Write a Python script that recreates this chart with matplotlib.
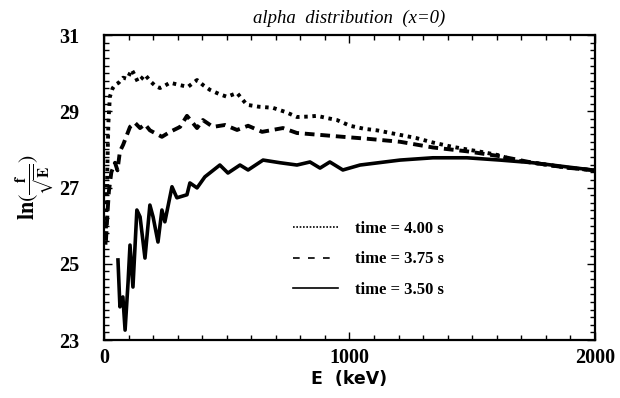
import numpy as np
import matplotlib
matplotlib.use("Agg")
import matplotlib.pyplot as plt
from matplotlib.ticker import MultipleLocator, FixedLocator

plt.rcParams['font.family'] = ['Liberation Serif', 'DejaVu Serif']
plt.rcParams['mathtext.fontset'] = 'stix'

# ------------------------------
# Datos
# ------------------------------
# time = 4.00 s (punteada)
E_400 = [6, 10, 14, 18, 24, 35, 45, 60, 78, 95, 113, 125, 138, 152, 167, 190,
         210, 228, 250, 269, 300, 342, 379, 405, 432, 470, 501, 542, 582, 630,
         688, 740, 786, 830, 868, 910, 949, 1002, 1060, 1112, 1206, 1270, 1340,
         1410, 1478, 1550, 1613, 1666, 1747, 1820, 1886, 1950, 2000]
f_400 = [25.5, 26.4, 27.6, 28.7, 29.38, 29.6, 29.69, 29.75, 29.88, 29.85, 30.09,
         29.95, 29.77, 29.85, 29.96, 29.78, 29.66, 29.61, 29.68, 29.75, 29.70,
         29.64, 29.82, 29.68, 29.56, 29.45, 29.38, 29.48, 29.17, 29.12, 29.09,
         28.98, 28.85, 28.86, 28.88, 28.82, 28.77, 28.62, 28.54, 28.50, 28.38,
         28.30, 28.18, 28.08, 28.00, 27.92, 27.84, 27.72, 27.65, 27.58, 27.52,
         27.48, 27.45]

# time = 3.75 s (discontinua)
E_375 = [8, 14, 20, 30, 45, 55, 65, 78, 106, 126, 147, 167, 187, 236, 269, 310,
         338, 379, 403, 444, 493, 542, 587, 644, 729, 786, 880, 973, 1071, 1206,
         1340, 1478, 1613, 1747, 1886, 2000]
f_375 = [25.6, 26.3, 26.9, 27.4, 27.65, 27.45, 27.95, 28.12, 28.59, 28.70, 28.56,
         28.66, 28.50, 28.33, 28.46, 28.59, 28.88, 28.56, 28.77, 28.59, 28.64,
         28.51, 28.62, 28.46, 28.56, 28.43, 28.38, 28.33, 28.28, 28.20, 28.05,
         27.95, 27.82, 27.65, 27.52, 27.45]

# time = 3.50 s (continua)
E_350 = [57, 65, 77, 86, 98, 106, 118, 134, 147, 167, 187, 200, 220, 236, 248,
         277, 297, 338, 350, 379, 411, 472, 505, 554, 587, 648, 717, 786, 839,
         880, 920, 973, 1043, 1206, 1340, 1478, 1613, 1747, 1886, 2000]
f_350 = [25.10, 23.87, 24.13, 23.26, 24.50, 25.49, 24.39, 26.41, 26.23, 25.15,
         26.54, 26.23, 25.57, 26.41, 26.10, 27.02, 26.73, 26.81, 27.12, 26.99,
         27.28, 27.59, 27.38, 27.59, 27.46, 27.72, 27.65, 27.59, 27.67, 27.51,
         27.67, 27.46, 27.59, 27.72, 27.78, 27.78, 27.72, 27.65, 27.54, 27.45]

etiquetas = ["time = 4.00 s", "time = 3.75 s", "time = 3.50 s"]
ticks_x = [0, 1000, 2000]
ticks_y = [23, 25, 27, 29, 31]

# ------------------------------
# Gráfico
# ------------------------------
fig = plt.figure(figsize=(6.2, 3.98), dpi=100)
ax = fig.add_axes([0.1677, 0.1457, 0.792, 0.7663])

l1, = ax.plot(E_400, f_400, color='black', lw=2.8, linestyle=(0, (0.9, 1.2)),
              label=etiquetas[0])
l2, = ax.plot(E_375, f_375, color='black', lw=2.8, linestyle=(0, (2.5, 1.5)),
              label=etiquetas[1])
l3, = ax.plot(E_350, f_350, color='black', lw=2.6, linestyle='-',
              label=etiquetas[2])

ax.set_xlim(0, 2000)
ax.set_ylim(23, 31)

ax.xaxis.set_major_locator(FixedLocator(ticks_x))
ax.xaxis.set_minor_locator(MultipleLocator(100))
ax.yaxis.set_major_locator(FixedLocator(ticks_y))
ax.yaxis.set_minor_locator(MultipleLocator(0.2))
ax.tick_params(which='both', direction='in', top=True, right=True, width=1)
ax.tick_params(which='major', length=6, labelsize=14.5)
ax.tick_params(axis='x', which='major', pad=6)
ax.tick_params(axis='y', which='major', pad=18)
ax.tick_params(which='minor', length=3.5)
for s in ax.spines.values():
    s.set_linewidth(1.6)
for lab in ax.get_xticklabels() + ax.get_yticklabels():
    lab.set_fontweight('bold')

ax.set_title("alpha  distribution  (x=0)", fontstyle='italic', fontsize=13.5,
             pad=9)
ax.set_xlabel("E  (keV)", family='DejaVu Sans', fontweight='bold', fontsize=12.5,
              labelpad=1)
ax.set_ylabel(r"$\mathbf{ln}(\frac{\mathbf{f}}{\sqrt{\mathbf{E}}})$",
              fontsize=16, labelpad=2)

leg = ax.legend(handles=[l1, l2, l3], loc='lower left',
                bbox_to_anchor=(0.355, 0.09), frameon=False, handlelength=2.7,
                handletextpad=1.0, labelspacing=0.85,
                prop={'weight': 'bold', 'size': 12})
for ln in leg.get_lines():
    ln.set_linewidth(1.2)
leg.get_lines()[0].set_linestyle((0, (1, 1)))
leg.get_lines()[1].set_linestyle((0, (4, 5)))

fig.savefig("out.png", dpi=100)
